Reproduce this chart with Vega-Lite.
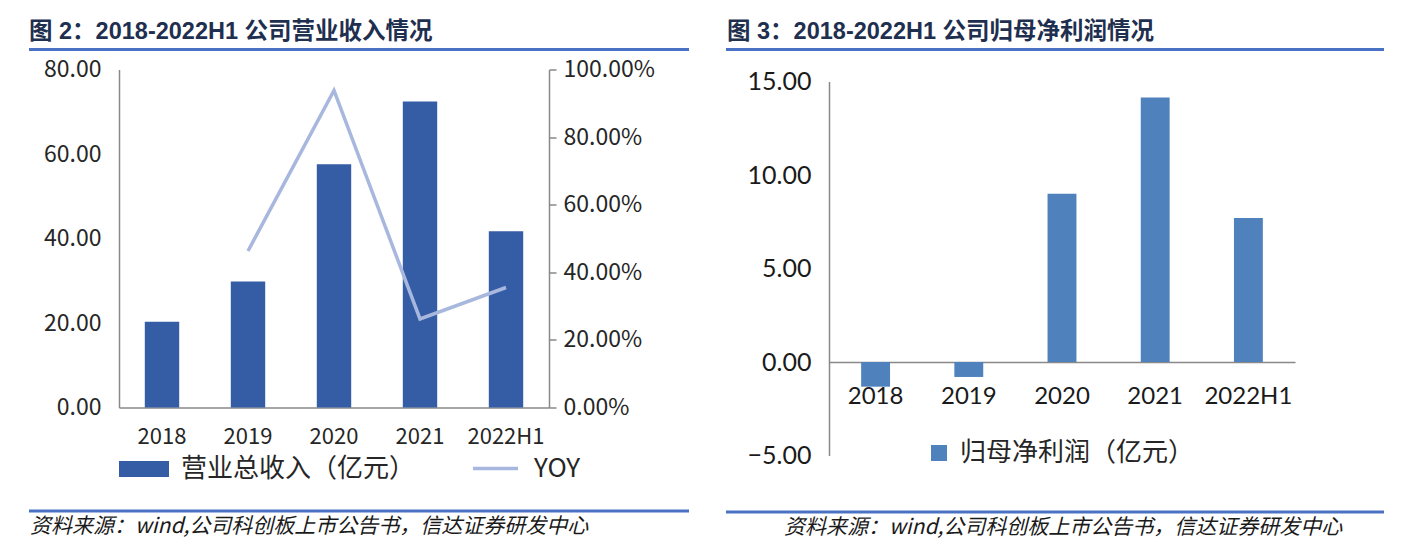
{
  "$schema": "https://vega.github.io/schema/vega-lite/v6.json",
  "autosize": {"type": "pad"},
  "padding": {"left": 28, "top": 20, "right": 0, "bottom": 0},
  "background": "white",
  "config": {"view": {"stroke": null}, "font": "Noto Sans CJK SC"},
  "spacing": 36,
  "resolve": {"scale": {"fill": "independent", "stroke": "independent"}, "legend": {"fill": "independent", "stroke": "independent"}},
  "hconcat": [
    {
      "spacing": 7.5,
      "vconcat": [
        {
          "width": 660, "height": 3,
          "data": {"values": [{"a": 1}]},
          "mark": {"type": "rule", "opacity": 0},
          "encoding": {},
          "view": {"fill": "#4a72c4", "stroke": null},
          "title": {"text": "图 2：2018-2022H1 公司营业收入情况", "anchor": "start", "frame": "group", "dx": 0, "offset": 4, "fontSize": 23.5, "fontWeight": "bold", "color": "#1f2f50", "font": "Liberation Sans, Noto Sans CJK SC"}
        },
        {
          "spacing": 61,
          "vconcat": [
            {
              "spacing": 5,
              "hconcat": [
                {
                  "width": 1, "height": 1,
                  "data": {"values": [{"a": 1}]},
                  "mark": {"type": "rule", "opacity": 0},
                  "encoding": {}
                },
                {
                  "width": 430, "height": 338,
                  "data": {"values": [
                    {"year": "2018", "revenue": 20.3},
                    {"year": "2019", "revenue": 29.8, "yoy": 0.463},
                    {"year": "2020", "revenue": 57.6, "yoy": 0.938},
                    {"year": "2021", "revenue": 72.4, "yoy": 0.262},
                    {"year": "2022H1", "revenue": 41.7, "yoy": 0.355}
                  ]},
                  "encoding": {
                    "x": {"field": "year", "type": "nominal", "sort": null,
                      "scale": {"paddingInner": 0.6, "paddingOuter": 0.3},
                      "axis": {"title": null, "labelAngle": 0, "labelFontSize": 22, "labelColor": "#262626", "ticks": false, "tickSize": 0, "labelPadding": 19, "domainColor": "#898989", "domainWidth": 1.5}}
                  },
                  "layer": [
                    {
                      "mark": {"type": "bar"},
                      "encoding": {
                        "y": {"field": "revenue", "type": "quantitative", "scale": {"domain": [0, 80], "nice": false},
                          "axis": {"title": null, "values": [0, 20, 40, 60, 80], "format": ".2f", "labelFontSize": 23, "labelColor": "#262626", "ticks": false, "tickSize": 0, "labelPadding": 18, "grid": false, "domainColor": "#898989", "domainWidth": 1.5, "minExtent": 84}},
                        "fill": {"datum": "营业总收入（亿元）", "scale": {"range": ["#355da5"]},
                          "legend": {"title": null, "orient": "none", "legendX": 90, "legendY": 396, "padding": 0, "symbolType": "M-1,-0.32L1,-0.32L1,0.32L-1,0.32Z", "symbolSize": 2500, "symbolStrokeWidth": 0, "labelFontSize": 26, "labelLimit": 400, "labelColor": "#262626", "labelOffset": 12}}
                      }
                    },
                    {
                      "mark": {"type": "line", "strokeWidth": 3.5},
                      "encoding": {
                        "y": {"field": "yoy", "type": "quantitative", "scale": {"domain": [0, 1], "nice": false},
                          "axis": {"orient": "right", "title": null, "values": [0, 0.2, 0.4, 0.6, 0.8, 1], "format": ".2%", "labelFontSize": 23, "labelColor": "#262626", "tickSize": 7, "tickColor": "#898989", "tickWidth": 1.5, "labelPadding": 7, "grid": false, "domainColor": "#898989", "domainWidth": 1.5}},
                        "stroke": {"datum": "YOY", "scale": {"range": ["#a8b7dd"]},
                          "legend": {"title": null, "orient": "none", "legendX": 442, "legendY": 396, "padding": 0, "symbolType": "stroke", "symbolSize": 2025, "symbolStrokeWidth": 3.5, "labelFontSize": 26, "labelLimit": 200, "labelColor": "#262626", "labelOffset": 14}}
                      }
                    }
                  ],
                  "resolve": {"scale": {"y": "independent"}}
                }
              ]
            },
            {
              "width": 660, "height": 3,
              "data": {"values": [{"a": 1}]},
              "mark": {"type": "rule", "opacity": 0},
              "encoding": {},
              "view": {"fill": "#4a72c4", "stroke": null},
              "title": {"text": "资料来源：wind,公司科创板上市公告书，信达证券研发中心", "orient": "bottom", "anchor": "start", "frame": "group", "dx": 1, "offset": 3, "fontSize": 21, "fontWeight": "normal", "fontStyle": "italic", "color": "#1a1a1a", "font": "Noto Sans CJK SC"}
            }
          ]
        }
      ]
    },
    {
      "spacing": 18.5,
      "vconcat": [
        {
          "width": 658, "height": 3,
          "data": {"values": [{"a": 1}]},
          "mark": {"type": "rule", "opacity": 0},
          "encoding": {},
          "view": {"fill": "#4a72c4", "stroke": null},
          "title": {"text": "图 3：2018-2022H1 公司归母净利润情况", "anchor": "start", "frame": "group", "dx": 1, "offset": 4, "fontSize": 23.5, "fontWeight": "bold", "color": "#1f2f50", "font": "Liberation Sans, Noto Sans CJK SC"}
        },
        {
          "spacing": 41,
          "vconcat": [
            {
              "spacing": 12,
              "hconcat": [
                {
                  "width": 1, "height": 1,
                  "data": {"values": [{"a": 1}]},
                  "mark": {"type": "rule", "opacity": 0},
                  "encoding": {}
                },
                {
                  "width": 466, "height": 374,
                  "data": {"values": [
                    {"year": "2018", "profit": -1.32},
                    {"year": "2019", "profit": -0.80},
                    {"year": "2020", "profit": 9.0},
                    {"year": "2021", "profit": 14.14},
                    {"year": "2022H1", "profit": 7.70}
                  ]},
                  "mark": {"type": "bar"},
                  "encoding": {
                    "x": {"field": "year", "type": "nominal", "sort": null,
                      "scale": {"paddingInner": 0.69, "paddingOuter": 0.345},
                      "axis": {"title": null, "labelAngle": 0, "offset": -93.5, "labelFont": "Lato", "labelFontSize": 24, "labelColor": "#1a1a1a", "ticks": false, "tickSize": 0, "labelPadding": 22, "domainColor": "#898989", "domainWidth": 1.5}},
                    "y": {"field": "profit", "type": "quantitative", "scale": {"domain": [-5, 15], "nice": false},
                      "axis": {"title": null, "values": [-5, 0, 5, 10, 15], "format": ".2f", "labelFont": "Lato", "labelFontSize": 25, "labelColor": "#1a1a1a", "ticks": false, "tickSize": 0, "labelPadding": 18, "grid": false, "domainColor": "#898989", "domainWidth": 1.5, "minExtent": 90}},
                    "fill": {"datum": "归母净利润（亿元）", "scale": {"range": ["#4f81bd"]},
                      "legend": {"title": null, "orient": "none", "legendX": 200, "legendY": 392, "padding": 0, "symbolType": "square", "symbolSize": 256, "symbolStrokeWidth": 0, "labelFontSize": 26, "labelLimit": 400, "labelColor": "#262626", "labelOffset": 8}}
                  }
                }
              ]
            },
            {
              "width": 658, "height": 3,
              "data": {"values": [{"a": 1}]},
              "mark": {"type": "rule", "opacity": 0},
              "encoding": {},
              "view": {"fill": "#4a72c4", "stroke": null},
              "title": {"text": "资料来源：wind,公司科创板上市公告书，信达证券研发中心", "orient": "bottom", "anchor": "start", "frame": "group", "dx": 58, "offset": 3, "fontSize": 21, "fontWeight": "normal", "fontStyle": "italic", "color": "#1a1a1a", "font": "Noto Sans CJK SC"}
            }
          ]
        }
      ]
    }
  ]
}
